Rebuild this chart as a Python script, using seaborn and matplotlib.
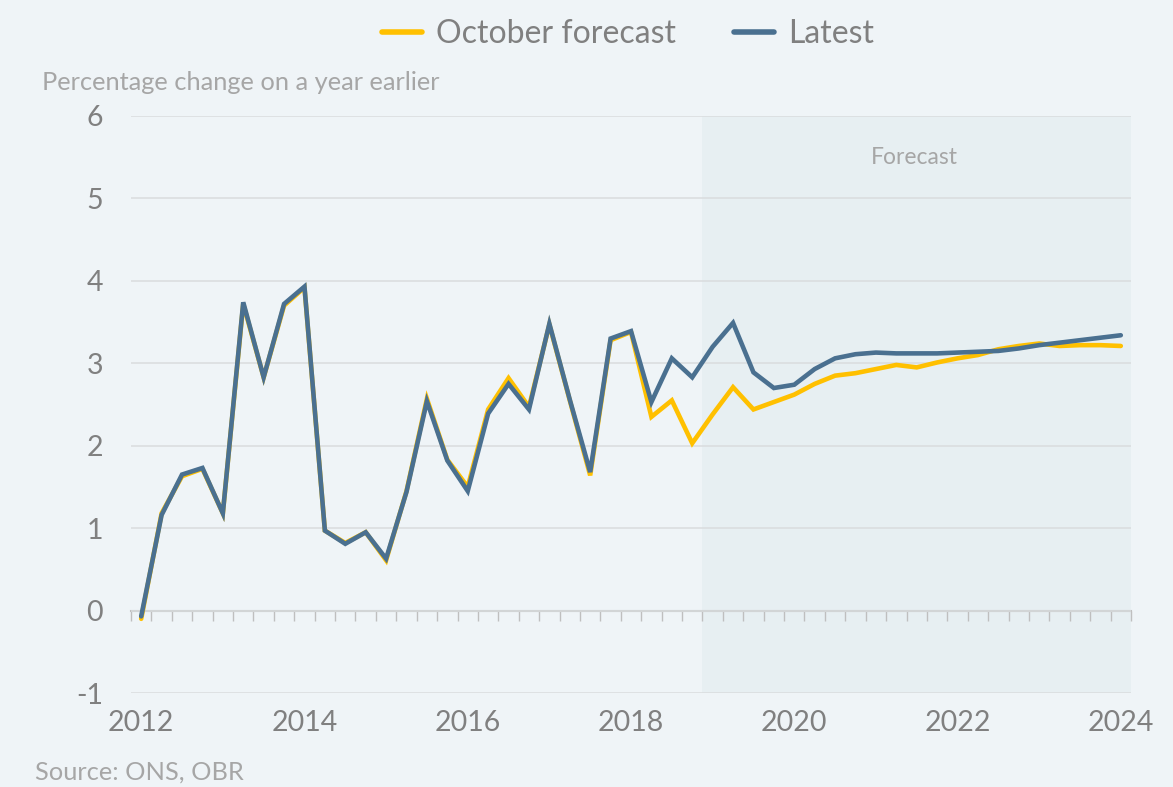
import numpy as np
import pandas as pd
import matplotlib
matplotlib.use("Agg")
import matplotlib.pyplot as plt
import seaborn as sns

# ---- data ----
quarters = [f"{y}Q{q}" for y in range(2012, 2025) for q in range(1, 5)][:49]
year_labels = ["2012", "2014", "2016", "2018", "2020", "2022", "2024"]
series_names = ["October forecast", "Latest"]

october_forecast = [-0.10, 1.18, 1.63, 1.72, 1.18, 3.72, 2.83, 3.70, 3.92, 0.97, 0.82, 0.95, 0.61,
                    1.45, 2.57, 1.83, 1.50, 2.44, 2.82, 2.47, 3.47, 2.55, 1.64, 3.28, 3.38,
                    2.35, 2.55, 2.03, 2.38, 2.71, 2.44, 2.53, 2.62, 2.75, 2.85, 2.88, 2.93,
                    2.98, 2.95, 3.01, 3.06, 3.10, 3.17, 3.21, 3.24, 3.21, 3.22, 3.22, 3.21]
latest = [-0.07, 1.16, 1.65, 1.73, 1.18, 3.74, 2.83, 3.72, 3.93, 0.97, 0.81, 0.95, 0.63,
          1.44, 2.54, 1.82, 1.45, 2.39, 2.75, 2.44, 3.48, 2.56, 1.68, 3.30, 3.39,
          2.53, 3.06, 2.83, 3.20, 3.49, 2.89, 2.70, 2.74, 2.93, 3.06, 3.11, 3.13,
          3.12, 3.12, 3.12, 3.13, 3.14, 3.15, 3.18, 3.22, 3.25, 3.28, 3.31, 3.34]
forecast_start = "2019Q1"

# ---- styling ----
BG = "#EFF4F7"
SHADE = "#E7EFF2"
GRID = "#D9DCDE"
TXT = "#808080"
LIGHT = "#A6A6A6"
YELLOW = "#FFC000"
BLUE = "#4A7090"

sns.set_theme(style="white")
plt.rcParams["font.family"] = ["Lato", "DejaVu Sans"]

df = pd.DataFrame({
    "idx": list(range(len(quarters))) * 2,
    "value": october_forecast + latest,
    "series": [series_names[0]] * len(quarters) + [series_names[1]] * len(quarters),
})

fig = plt.figure(figsize=(11.73, 7.87), dpi=100, facecolor=BG)
ax = fig.add_axes([131 / 1173, 94 / 787, 1000 / 1173, 577 / 787])
ax.set_facecolor(BG)

fi = quarters.index(forecast_start)
ax.axvspan(fi - 0.5, len(quarters) - 0.5, color=SHADE, zorder=0, lw=0)

sns.lineplot(data=df, x="idx", y="value", hue="series", hue_order=series_names,
             palette=[YELLOW, BLUE], linewidth=3.3, ax=ax, zorder=3,
             solid_joinstyle="miter")

ax.set_xlim(-0.5, len(quarters) - 0.5)
ax.set_ylim(-1, 6)
ax.set_yticks(range(-1, 7))
ax.set_yticklabels([str(v) for v in range(-1, 7)], fontsize=20.5, color=TXT)
ax.yaxis.grid(True, color=GRID, lw=1.1)
ax.set_axisbelow(True)
ax.tick_params(axis="y", length=0, pad=20)

year_idx = [quarters.index(f"{y}Q1") for y in year_labels]
ax.set_xticks(year_idx)
ax.set_xticklabels(year_labels, fontsize=20.5, color=TXT)
ax.tick_params(axis="x", length=0, pad=12)
ax.set_xlabel("")
ax.set_ylabel("")
for s in ax.spines.values():
    s.set_visible(False)

# zero axis line with quarter tick marks
sec = ax.secondary_xaxis(1 / 7)
sec.set_xticks(np.arange(-0.5, len(quarters), 1.0))
sec.set_xticklabels([])
sec.tick_params(axis="x", direction="out", length=7, width=1, color="#BFBFBF")
sec.spines["bottom"].set_color("#BFBFBF")
sec.spines["bottom"].set_linewidth(1.5)

ax.text(0.783, 0.928, "Forecast", transform=ax.transAxes, ha="center", va="center",
        fontsize=16.5, color=LIGHT)

fig.text(42 / 1173, 1 - 83 / 787, "Percentage change on a year earlier", fontsize=18.3,
         color=LIGHT, ha="left", va="center")
fig.text(35 / 1173, 1 - 772 / 787, "Source: ONS, OBR", fontsize=18.3, color=LIGHT,
         ha="left", va="center")

handles, labels = ax.get_legend_handles_labels()
ax.get_legend().remove()
leg = fig.legend(handles, labels, loc="center", bbox_to_anchor=(628 / 1173, 1 - 34 / 787),
                 ncol=2, frameon=False, fontsize=23, handlelength=1.25, columnspacing=1.8,
                 handletextpad=0.45, labelcolor=TXT)
for h in leg.legend_handles:
    h.set_linewidth(4)

fig.savefig("out.png", dpi=100, facecolor=BG)
